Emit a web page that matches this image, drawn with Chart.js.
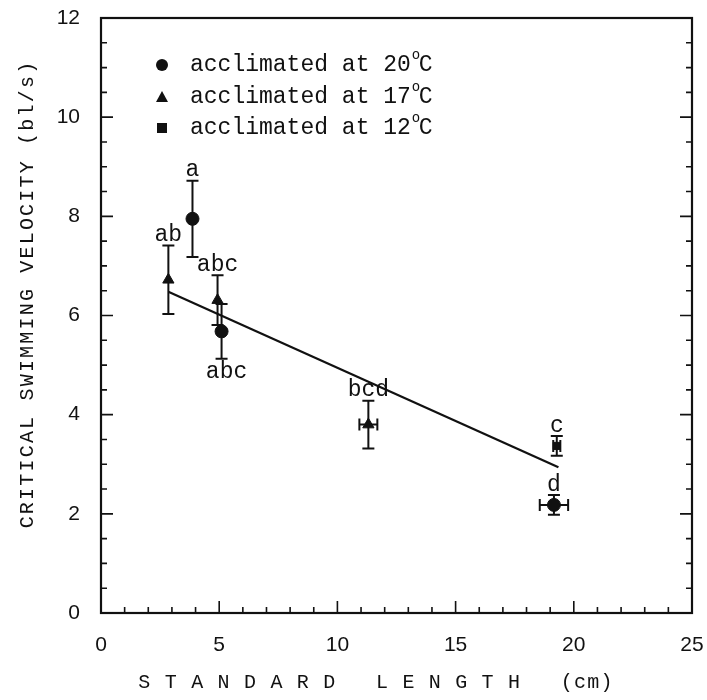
<!DOCTYPE html>
<html>
<head>
<meta charset="utf-8">
<script src="https://cdn.jsdelivr.net/npm/chart.js"></script>
<style>
  html, body { margin: 0; padding: 0; background: #fff; }
  #wrap { width: 707px; height: 700px; }
</style>
</head>
<body>
<div id="wrap"><canvas id="c" width="707" height="700"></canvas></div>
<script>
// 数据
const x20 = [3.87, 5.1, 19.16];
const y20 = [7.95, 5.68, 2.18];
const yErr20 = [0.77, 0.55, 0.2];
const xErr20 = [0, 0, 0.6];
const lab20 = ['a', 'abc', 'd'];

const x17 = [2.85, 4.93, 11.31];
const y17 = [6.72, 6.31, 3.8];
const yErr17 = [0.69, 0.5, 0.48];
const xErr17 = [0, 0, 0.38];
const lab17 = ['ab', 'abc', 'bcd'];

const x12 = [19.28];
const y12 = [3.37];
const yErr12 = [0.2];
const xErr12 = [0.15];
const lab12 = ['c'];

// 回归线
const regX = [2.85, 19.35];
const regY = [6.48, 2.94];

const xTicks = [0, 5, 10, 15, 20, 25];
const yTicks = [0, 2, 4, 6, 8, 10, 12];
const legendNames = ['20', '17', '12'];
const xTitle = 'S T A N D A R D   L E N G T H   (cm)';
const yTitle = 'CRITICAL SWIMMING VELOCITY (bl/s)';

const ink = '#111';
const mono = '"Liberation Mono", "DejaVu Sans Mono", monospace';
const sans = '"Liberation Sans", Arial, sans-serif';

function pts(xs, ys) {
    return xs.map((v, i) => ({ x: v, y: ys[i] }));
}

// 误差棒 + 字母标记
const errorBars = {
    id: 'errorBars',
    beforeDatasetsDraw(chart) {
        const { ctx, scales: { x, y } } = chart;
        ctx.save();
        ctx.strokeStyle = ink;
        ctx.lineWidth = 2;
        chart.data.datasets.forEach(ds => {
            if (!ds.yErr) return;
            ds.data.forEach((p, i) => {
                const px = x.getPixelForValue(p.x);
                const py = y.getPixelForValue(p.y);
                const top = y.getPixelForValue(p.y + ds.yErr[i]);
                const bot = y.getPixelForValue(p.y - ds.yErr[i]);
                ctx.beginPath();
                ctx.moveTo(px, top); ctx.lineTo(px, bot);
                ctx.moveTo(px - 6, top); ctx.lineTo(px + 6, top);
                ctx.moveTo(px - 6, bot); ctx.lineTo(px + 6, bot);
                if (ds.xErr[i] > 0) {
                    const l = x.getPixelForValue(p.x - ds.xErr[i]);
                    const r = x.getPixelForValue(p.x + ds.xErr[i]);
                    ctx.moveTo(l, py); ctx.lineTo(r, py);
                    ctx.moveTo(l, py - 6); ctx.lineTo(l, py + 6);
                    ctx.moveTo(r, py - 6); ctx.lineTo(r, py + 6);
                }
                ctx.stroke();
            });
        });
        ctx.restore();
    },
    afterDatasetsDraw(chart) {
        const { ctx, scales: { x, y } } = chart;
        ctx.save();
        ctx.fillStyle = ink;
        ctx.font = '23px ' + mono;
        ctx.textAlign = 'center';
        chart.data.datasets.forEach(ds => {
            if (!ds.letters) return;
            ds.data.forEach((p, i) => {
                const px = x.getPixelForValue(p.x);
                // 'abc' under the 5 cm circle sits below its bar
                if (ds.below && ds.below[i]) {
                    ctx.textBaseline = 'top';
                    ctx.fillText(ds.letters[i], px + 5, y.getPixelForValue(p.y - ds.yErr[i]) + 2);
                } else {
                    ctx.textBaseline = 'bottom';
                    ctx.fillText(ds.letters[i], px, y.getPixelForValue(p.y + ds.yErr[i]) + 1);
                }
            });
        });
        ctx.restore();
    }
};

// 边框、内向刻度、图例、轴标题
const frame = {
    id: 'frame',
    afterDraw(chart) {
        const { ctx, chartArea: a, scales: { x, y } } = chart;
        ctx.save();
        ctx.strokeStyle = ink;
        ctx.lineWidth = 2.2;
        ctx.strokeRect(a.left, a.top, a.right - a.left, a.bottom - a.top);
        ctx.lineWidth = 1.6;
        ctx.beginPath();
        for (let v = 0; v <= 12; v += 0.5) {
            const py = y.getPixelForValue(v);
            const len = v % 2 === 0 ? 12 : 6;
            ctx.moveTo(a.left, py); ctx.lineTo(a.left + len, py);
            ctx.moveTo(a.right, py); ctx.lineTo(a.right - len, py);
        }
        for (let v = 0; v <= 25; v += 1) {
            const px = x.getPixelForValue(v);
            const len = v % 5 === 0 ? 12 : 6;
            ctx.moveTo(px, a.bottom); ctx.lineTo(px, a.bottom - len);
        }
        ctx.stroke();

        // legend
        const lx = 162, ly = [65, 97, 128];
        ctx.fillStyle = ink;
        ctx.beginPath(); ctx.arc(lx, ly[0], 6, 0, Math.PI * 2); ctx.fill();
        ctx.beginPath();
        ctx.moveTo(lx, ly[1] - 6); ctx.lineTo(lx + 6, ly[1] + 5); ctx.lineTo(lx - 6, ly[1] + 5);
        ctx.closePath(); ctx.fill();
        ctx.fillRect(lx - 5, ly[2] - 5, 10, 10);
        ctx.textBaseline = 'middle';
        ctx.textAlign = 'left';
        legendNames.forEach((t, i) => {
            ctx.font = '23px ' + mono;
            const s = 'acclimated at ' + t;
            ctx.fillText(s, 190, ly[i]);
            const w = ctx.measureText(s).width;
            ctx.font = '14px ' + mono;
            ctx.fillText('o', 190 + w + 1, ly[i] - 10);
            ctx.font = '23px ' + mono;
            ctx.fillText('C', 190 + w + 8, ly[i]);
        });

        // axis titles
        ctx.font = '20px ' + mono;
        ctx.textAlign = 'center';
        ctx.textBaseline = 'middle';
        ctx.letterSpacing = '1.2px';
        ctx.fillText(xTitle, 376, 683);
        ctx.letterSpacing = '2.2px';
        ctx.translate(28, 294);
        ctx.rotate(-Math.PI / 2);
        ctx.fillText(yTitle, 0, 0);
        ctx.restore();
    }
};

new Chart(document.getElementById('c'), {
    type: 'scatter',
    data: {
        datasets: [
            {
                data: pts(x20, y20), yErr: yErr20, xErr: xErr20, letters: lab20,
                below: [false, true, false],
                pointStyle: 'circle', pointRadius: 6.5, backgroundColor: ink, borderColor: ink
            },
            {
                data: pts(x17, y17), yErr: yErr17, xErr: xErr17, letters: lab17,
                pointStyle: 'triangle', pointRadius: 6.5, backgroundColor: ink, borderColor: ink
            },
            {
                data: pts(x12, y12), yErr: yErr12, xErr: xErr12, letters: lab12,
                pointStyle: 'rect', pointRadius: 5, backgroundColor: ink, borderColor: ink
            },
            {
                type: 'line', data: pts(regX, regY), showLine: true,
                borderColor: ink, borderWidth: 2.2, pointRadius: 0, fill: false
            }
        ]
    },
    options: {
        responsive: false,
        animation: false,
        layout: { padding: { top: 18, right: 15, left: 0, bottom: 0 } },
        plugins: { legend: { display: false }, tooltip: { enabled: false } },
        scales: {
            x: {
                type: 'linear', min: 0, max: 25,
                afterBuildTicks: s => { s.ticks = xTicks.map(v => ({ value: v })); },
                afterFit: s => { s.height = 87; s.paddingLeft = 0; s.paddingRight = 0; },
                grid: { display: false }, border: { display: false },
                ticks: { color: ink, font: { family: sans, size: 21 }, padding: 12, maxRotation: 0 }
            },
            y: {
                type: 'linear', min: 0, max: 12,
                afterBuildTicks: s => { s.ticks = yTicks.map(v => ({ value: v })); },
                afterFit: s => { s.width = 101; s.paddingTop = 0; s.paddingBottom = 0; },
                grid: { display: false }, border: { display: false },
                ticks: { color: ink, font: { family: sans, size: 21 }, padding: 13 }
            }
        }
    },
    plugins: [errorBars, frame]
});
</script>
</body>
</html>
